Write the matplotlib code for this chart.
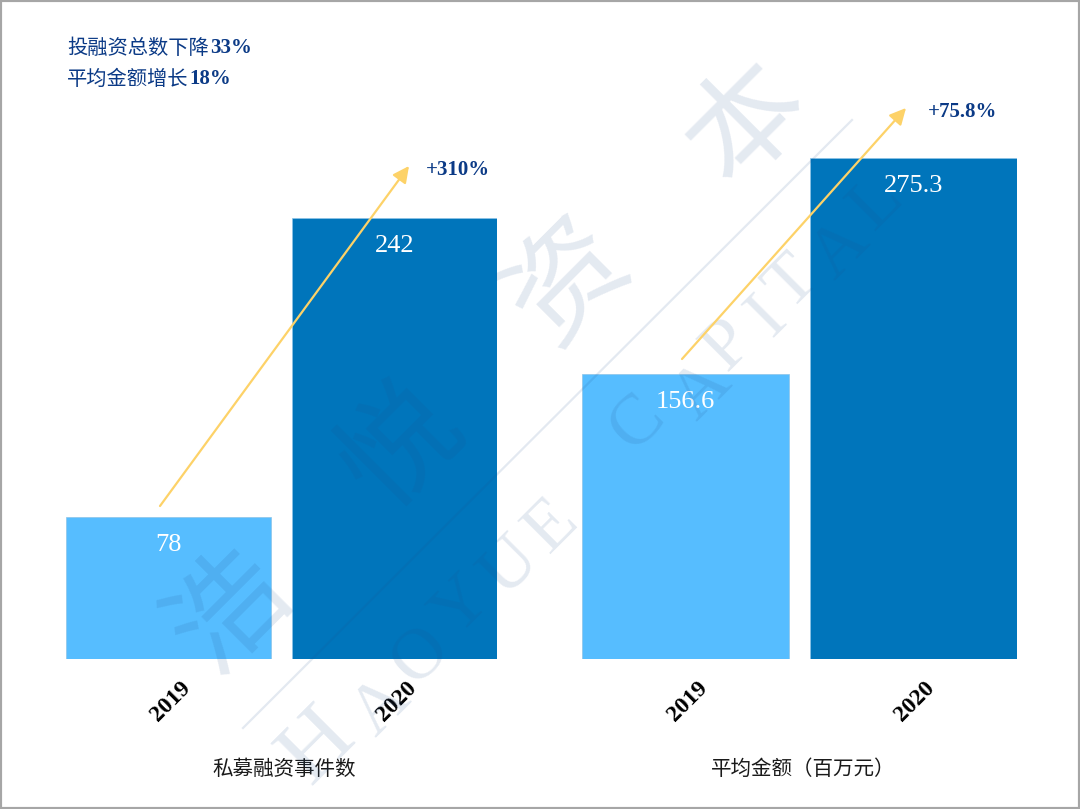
import matplotlib
matplotlib.use("Agg")
import matplotlib.pyplot as plt
from matplotlib.patches import FancyArrowPatch, Rectangle
from matplotlib.transforms import ScaledTranslation

W, H = 1080, 809

years = ["2019", "2020"]
deal_counts = [78, 242]
avg_amounts = [156.6, 275.3]
count_label = "私募融资事件数"
amount_label = "平均金额（百万元）"
count_growth = "+310%"
amount_growth = "+75.8%"
note_cn = ["投融资总数下降", "平均金额增长"]
note_pct = ["33%", "18%"]

CJK = ["Noto Sans CJK SC", "DejaVu Sans"]
SERIF = ["Liberation Serif", "DejaVu Serif"]
NAVY = "#0b3a86"
LIGHT = "#56bdff"
DARK = "#0075bb"
ARROW = "#fdd268"
WM = "#1f4e8c"


def fx(x):
    return x / W


def fy(y):
    return 1 - y / H


def add_panel(fig, left, right, values, label, label_x, bar_w):
    ax = fig.add_axes([fx(left), fy(659), fx(right - left), (659 - 20) / H])
    ax.bar([0, 1], values, width=bar_w, color=[LIGHT, DARK], edgecolor="#8cc4e8", linewidth=0.5)
    ax.set_xlim(-bar_w / 2, 1 + bar_w / 2)
    ax.set_ylim(0, 351)
    ax.set_yticks([])
    ax.set_xticks([0, 1])
    ax.set_xticklabels(years, rotation=45, ha="center", va="top", rotation_mode="default",
                       family=SERIF, fontweight="bold", fontsize=17)
    ax.tick_params(axis="x", length=0, pad=13)
    # nudge the rotated years 2px to the right
    for t in ax.get_xticklabels():
        t.set_transform(t.get_transform() + ScaledTranslation(2 / 100, 0, fig.dpi_scale_trans))
    ax.set_xlabel(label, family=CJK, fontsize=14.8, color="#1a1a1a", va="center")
    ax.xaxis.set_label_coords((label_x - left) / (right - left), (659 - 769) / (659 - 20))
    ax.patch.set_alpha(0)
    for s in ax.spines.values():
        s.set_visible(False)
    for i, v in enumerate(values):
        ax.annotate(str(v), (i, v), xytext=(0, -20), textcoords="offset points",
                    ha="center", va="center", color="white", family=SERIF, fontsize=19)
    return ax


fig = plt.figure(figsize=(W / 100, H / 100), dpi=100, facecolor="white")

add_panel(fig, 65.7, 497.3, deal_counts, count_label, 284, 0.907)
add_panel(fig, 582, 1016.8, avg_amounts, amount_label, 803, 0.91)

# watermark goes over the bars
for ch, x, y in [("浩", 230, 612), ("悦", 402, 447), ("资", 568, 282), ("本", 748, 124)]:
    fig.text(fx(x), fy(y), ch, rotation=45, ha="center", va="center", family=CJK,
             fontsize=84, color=WM, alpha=0.12, zorder=3)

letters = [("H", 318, 747, 66), ("A", 381, 707, 52), ("O", 422, 656, 52), ("Y", 462, 607, 52),
           ("U", 510, 567, 52), ("E", 552, 526, 52), ("C", 638, 423, 52), ("A", 702, 391, 52),
           ("P", 729, 345, 52), ("I", 767, 317, 52), ("T", 793, 283, 52), ("A", 840, 250, 52),
           ("L", 877, 203, 52)]
for ch, x, y, size in letters:
    fig.text(fx(x), fy(y), ch, rotation=45, ha="center", va="center", family=SERIF,
             fontsize=size, color=WM, alpha=0.12, zorder=3)

fig.add_artist(plt.Line2D([fx(243), fx(852)], [fy(728), fy(120)], color=WM, alpha=0.12, lw=1.6, zorder=3))

# growth arrows
for (x0, y0, x1, y1) in [(160, 506, 409, 166), (682, 359, 906, 108)]:
    fig.add_artist(FancyArrowPatch((fx(x0), fy(y0)), (fx(x1), fy(y1)), transform=fig.transFigure,
                                   arrowstyle="-|>,head_length=0.7,head_width=0.35", mutation_scale=14,
                                   color=ARROW, lw=1.6, shrinkA=0, shrinkB=0, zorder=4))

fig.text(fx(458), fy(170), count_growth, ha="center", va="center", family=SERIF,
         fontweight="bold", fontsize=15, color=NAVY)
fig.text(fx(963), fy(112), amount_growth, ha="center", va="center", family=SERIF,
         fontweight="bold", fontsize=15, color=NAVY)

# note top left
for cn, pct, y, xp in zip(note_cn, note_pct, [48, 79], [210, 189]):
    fig.text(fx(67), fy(y), cn, ha="left", va="center", family=CJK, fontsize=14.6, color=NAVY)
    fig.text(fx(xp), fy(y), pct, ha="left", va="center", family=SERIF, fontweight="bold",
             fontsize=15, color=NAVY)

fig.add_artist(Rectangle((0, 0), 1, 1, transform=fig.transFigure, fill=False,
                         edgecolor="#a6a6a6", lw=3, zorder=5))

fig.savefig("out.png", dpi=100)
plt.close(fig)
